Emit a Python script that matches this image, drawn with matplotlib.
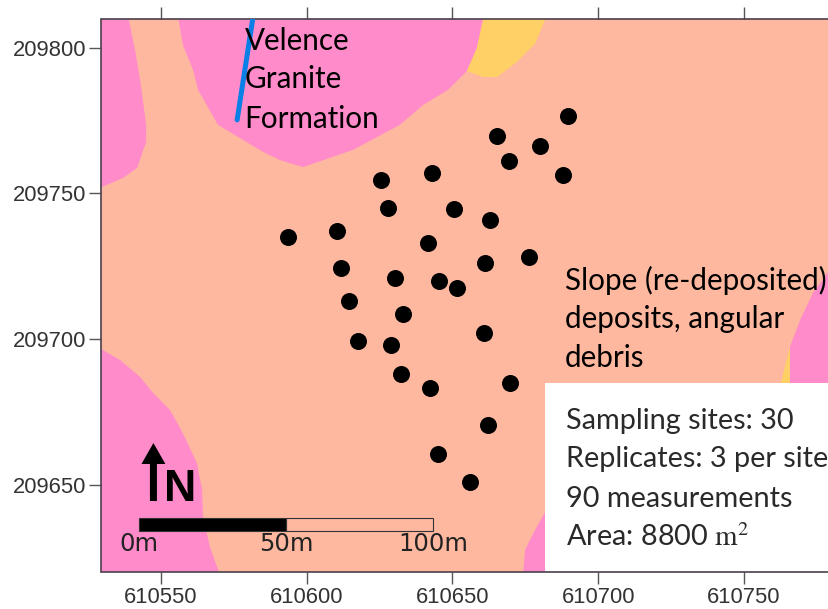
import matplotlib
matplotlib.use("Agg")
import matplotlib.pyplot as plt
from matplotlib.patches import Polygon, Rectangle

W, H = 829, 609

# site coordinates
site_x = [610689.6, 610665.3, 610680.0, 610669.4, 610687.9, 610643.0, 610625.5, 610627.9, 610650.5, 610662.9,
          610593.6, 610610.4, 610641.6, 610676.3, 610661.2, 610611.8, 610630.3, 610645.4, 610651.6, 610614.6,
          610633.1, 610660.8, 610617.6, 610628.9, 610632.4, 610642.3, 610669.8, 610662.2, 610645.1, 610656.0]
site_y = [209776.6, 209769.7, 209766.3, 209761.1, 209756.3, 209757.0, 209754.6, 209745.0, 209744.6, 209740.9,
          209735.0, 209737.1, 209733.0, 209728.2, 209726.1, 209724.4, 209721.0, 209719.9, 209717.5, 209713.1,
          209708.6, 209702.1, 209699.3, 209697.9, 209688.0, 209683.2, 209684.9, 209670.5, 209660.5, 209650.9]

x_ticks = [610550, 610600, 610650, 610700, 610750]
y_ticks = [209650, 209700, 209750, 209800]

# geological units
pink_units = [
    [(610529, 209811), (610538.8, 209811), (610541.2, 209799.2), (610543.2, 209787.2), (610545.0, 209773.5),
     (610545.0, 209767.6), (610541.9, 209758.7), (610537.1, 209755.3), (610529, 209751.8)],
    [(610555.9, 209811), (610557.6, 209800.9), (610561.1, 209792.3), (610562.8, 209785.5), (610569.6, 209773.5),
     (610585.1, 209764.2), (610590.9, 209761.4), (610598.8, 209759), (610615.9, 209764.9), (610632.0, 209773.5),
     (610639.9, 209780.3), (610648.5, 209785.5), (610655.0, 209792), (610658.4, 209799.9), (610660.8, 209811)],
    [(610529, 209696.9), (610536.0, 209692.8), (610542.9, 209687), (610547.4, 209681.5), (610553.2, 209675.6),
     (610557.6, 209667.7), (610562.4, 209657.4), (610564.2, 209648.2), (610564.5, 209638.9), (610566.9, 209628.6),
     (610570.3, 209619), (610529, 209619)],
    [(610780, 209724.7), (610773.6, 209715.8), (610769.2, 209706.5), (610765.7, 209697.3), (610765.7, 209679),
     (610780, 209679)],
    [(610687, 209640.6), (610681.8, 209640.6), (610678.3, 209634.4), (610674.9, 209627.6), (610674.2, 209619),
     (610687, 209619)],
]
yellow_units = [
    [(610660.8, 209811), (610658.4, 209799.9), (610655.0, 209792), (610660.5, 209789.9), (610665.3, 209789.9),
     (610672.1, 209795.1), (610678.3, 209801.3), (610682.4, 209811)],
    [(610765.7, 209697.3), (610762.6, 209684.9), (610760.6, 209679), (610765.7, 209679)],
]

fault_x = [610581.6, 610576.2]
fault_y = [209810.2, 209775.2]

scale_x = [610542.5, 610593, 610643.5]
scale_labels = ["0m", "50m", "100m"]

geology_lines = ["Velence", "Granite", "Formation"]
slope_lines = ["Slope (re-deposited)", "deposits, angular", "debris"]
info_lines = ["Sampling sites: 30", "Replicates: 3 per site", "90 measurements", r"Area: 8800 $\mathrm{m}^2$"]

plt.rcParams["font.family"] = "Liberation Sans"
plt.rcParams["mathtext.fontset"] = "stix"

fig = plt.figure(figsize=(W / 100, H / 100), dpi=100)
ax = fig.add_axes([101.5 / W, 1 - 571.5 / H, (W - 101.5) / W, (571.5 - 18.5) / H])
ax.set_facecolor("#ffb8a0")
ax.set_xlim(610529.7, 610779.1)
ax.set_ylim(209620.2, 209810)

for unit in pink_units:
    ax.add_patch(Polygon(unit, closed=True, fc="#ff8bcb", ec="none", zorder=1))
for unit in yellow_units:
    ax.add_patch(Polygon(unit, closed=True, fc="#ffd066", ec="none", zorder=1))

# white info panel sits on top of the map
ax.add_patch(Rectangle((610681.8, 209620.2), 100, 64.7, fc="white", ec="none", zorder=2))

ax.plot(fault_x, fault_y, color="#0a80e6", lw=3.6, solid_capstyle="round", zorder=3)
ax.scatter(site_x, site_y, s=150, color="black", linewidths=0, zorder=4)

# scale bar
ax.add_patch(Rectangle((scale_x[0], 209634.2), scale_x[1] - scale_x[0], 4.5, fc="black", ec="#333333", lw=0.8, zorder=3))
ax.add_patch(Rectangle((scale_x[1], 209634.2), scale_x[2] - scale_x[1], 4.5, fc="none", ec="#333333", lw=0.8, zorder=3))
for x, label in zip(scale_x, scale_labels):
    ax.text(x, 209627.3, label, ha="center", va="baseline", fontsize=17.5, family="DejaVu Sans", color="#222222", zorder=4)

# north arrow
ax.arrow(610547.5, 209644.4, 0, 19.9, width=2.4, head_width=8.2, head_length=7.2,
         length_includes_head=True, fc="black", ec="none", zorder=4)
ax.text(610551, 209644.4, "N", fontsize=32, fontweight="bold", ha="left", va="baseline", color="black", zorder=4)

ax.set_xticks(x_ticks)
ax.set_yticks(y_ticks)
ax.set_xticklabels([str(v) for v in x_ticks])
ax.set_yticklabels([str(v) for v in y_ticks])
ax.tick_params(axis="both", top=True, length=8.6, width=1, color="#555555", labelcolor="#333333", labelsize=15.8, pad=2.5)
ax.tick_params(axis="x", pad=2.5)
for name in ["left", "top", "bottom"]:
    ax.spines[name].set_color("#4a404a")
    ax.spines[name].set_linewidth(1.2)
ax.spines["right"].set_visible(False)


def put_lines(lines, left, baselines, **kw):
    for line, base in zip(lines, baselines):
        fig.text(left / W, 1 - base / H, line, ha="left", va="baseline", family="Lato", **kw)


put_lines(geology_lines, 244.5, [50, 88, 127.7], fontsize=21.3, color="black")
put_lines(slope_lines, 565, [290, 328, 367], fontsize=21.3, color="black")
put_lines(info_lines, 566, [429, 467, 507, 546], fontsize=20.8, color="#2a2a2a")

fig.savefig("out.png", dpi=100)
